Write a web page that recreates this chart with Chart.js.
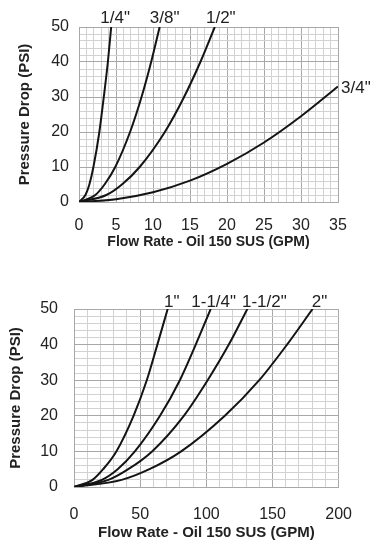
<!DOCTYPE html>
<html>
<head>
<meta charset="utf-8">
<script src="https://cdn.jsdelivr.net/npm/chart.js@4.4.1/dist/chart.umd.min.js"></script>
<style>
html,body{margin:0;padding:0;background:#fff;}
canvas{position:absolute;left:0;}
#c1{top:0;}
#c2{top:270px;}
</style>
</head>
<body>
<canvas id="c1" width="370" height="270"></canvas>
<canvas id="c2" width="370" height="272"></canvas>
<script>
// ---------- Top chart data (flow in GPM read at each pressure level, PSI) ----------
const topPressure = [0, 2, 5, 10, 20, 30, 40, 50];
const flow_1_4 = [0, 0.87, 1.4, 1.95, 2.75, 3.35, 3.9, 4.35];
const flow_3_8 = [0, 2.2, 3.45, 4.9, 6.9, 8.45, 9.75, 10.9];
const flow_1_2 = [0, 3.7, 5.8, 8.2, 11.6, 14.2, 16.4, 18.35];
// 3/4" read at flow levels
const flow_3_4 = [0, 5, 10, 15, 20, 25, 30, 35];
const pressure_3_4 = [0, 0.8, 2.8, 6.1, 10.9, 17.0, 24.5, 33.0];
const topSeriesNames = ['1/4"', '3/8"', '1/2"', '3/4"'];
const topXTickLabels = [0, 5, 10, 15, 20, 25, 30, 35];
const topYTickLabels = [0, 10, 20, 30, 40, 50];

// ---------- Bottom chart data ----------
const bottomPressure = [0, 2, 5, 10, 20, 30, 40, 50];
const flow_1 = [0, 14, 22, 32, 45, 55, 63, 70.8];
const flow_1_1_4 = [0, 21, 33, 46, 65, 80, 92, 103.3];
const flow_1_1_2 = [0, 26, 41, 59, 83, 101, 117, 131];
const flow_2 = [0, 36, 57, 81, 114, 140, 161, 180.3];
const bottomSeriesNames = ['1"', '1-1/4"', '1-1/2"', '2"'];
const bottomXTickLabels = [0, 50, 100, 150, 200];
const bottomYTickLabels = [0, 10, 20, 30, 40, 50];

const xTitle = 'Flow Rate - Oil 150 SUS (GPM)';
const yTitle = 'Pressure Drop (PSI)';

function pts(xs, ys) { return xs.map((x, i) => ({x: x, y: ys[i]})); }

const FONT = "'Liberation Sans', Arial, Helvetica, sans-serif";
const MINOR = '#d2d2d2';
const MAJOR = '#a8a8a8';
const TEXT = '#222';

const curveLabelPlugin = {
  id: 'curveLabels',
  afterDatasetsDraw(chart, args, opts) {
    const ctx = chart.ctx;
    ctx.save();
    ctx.font = opts.font;
    ctx.fillStyle = TEXT;
    chart.data.datasets.forEach((ds, i) => {
      const pl = opts.place[i];
      const meta = chart.getDatasetMeta(i);
      const last = meta.data[meta.data.length - 1];
      const x = last.x + pl.dx;
      let y;
      if (pl.top) {
        ctx.textBaseline = 'alphabetic';
        y = chart.chartArea.top + pl.dy;
      } else {
        ctx.textBaseline = 'middle';
        y = last.y + pl.dy;
      }
      ctx.textAlign = pl.align;
      ctx.fillText(ds.label, x, y);
    });
    ctx.restore();
  }
};

function makeChart(id, datasets, c) {
  new Chart(document.getElementById(id), {
    type: 'scatter',
    data: { datasets: datasets.map(d => ({
      label: d.label, data: d.data, showLine: true, pointRadius: 0,
      borderColor: '#141414', borderWidth: 2, cubicInterpolationMode: 'monotone', fill: false
    })) },
    plugins: [curveLabelPlugin],
    options: {
      responsive: false, animation: false, devicePixelRatio: 1,
      layout: { padding: { left: 0, right: c.padRight, top: c.padTop, bottom: 0 } },
      plugins: { legend: { display: false }, tooltip: { enabled: false },
        curveLabels: { font: c.labelFont, place: c.place } },
      scales: {
        x: {
          type: 'linear', min: 0, max: c.xMax,
          afterFit: s => { s.height = c.xHeight; },
          grid: { color: t => c.xTicks.includes(t.tick.value) ? MAJOR : MINOR, lineWidth: 1, tickLength: 0 },
          border: { display: true, color: MAJOR },
          ticks: { stepSize: c.xStep, autoSkip: false, maxRotation: 0, minRotation: 0,
            padding: c.xTickPad, color: TEXT, font: { family: FONT, size: c.tickSize },
            callback: v => c.xTicks.includes(v) ? String(v) : '' },
          title: { display: true, text: xTitle, color: TEXT,
            font: { family: FONT, size: c.xTitleSize, weight: 'bold' },
            padding: { top: 0, bottom: c.xTitlePad } }
        },
        y: {
          type: 'linear', min: 0, max: 50,
          afterFit: s => { s.width = c.yWidth; },
          grid: { color: t => c.yTicks.includes(t.tick.value) ? MAJOR : MINOR, lineWidth: 1, tickLength: 0 },
          border: { display: true, color: MAJOR },
          ticks: { stepSize: 2, autoSkip: false, padding: c.yTickPad, color: TEXT,
            font: { family: FONT, size: c.tickSize },
            callback: v => c.yTicks.includes(v) ? String(v) : '' },
          title: { display: true, text: yTitle, color: TEXT,
            font: { family: FONT, size: c.yTitleSize, weight: 'bold' },
            padding: { top: c.yTitlePad, bottom: 0 } }
        }
      }
    }
  });
}

makeChart('c1', [
  { label: topSeriesNames[0], data: pts(flow_1_4, topPressure) },
  { label: topSeriesNames[1], data: pts(flow_3_8, topPressure) },
  { label: topSeriesNames[2], data: pts(flow_1_2, topPressure) },
  { label: topSeriesNames[3], data: pts(flow_3_4, pressure_3_4) }
], {
  xMax: 35, xStep: 1, xTicks: topXTickLabels, yTicks: topYTickLabels,
  padRight: 32, padTop: 27, xHeight: 68, yWidth: 79,
  tickSize: 16, xTickPad: 14, yTickPad: 10,
  xTitleSize: 14, xTitlePad: 19, yTitleSize: 15, yTitlePad: 16,
  labelFont: "17px " + FONT,
  place: [
    { dx: 4, dy: -4, align: 'center', top: true },
    { dx: 5, dy: -4, align: 'center', top: true },
    { dx: 6, dy: -4, align: 'center', top: true },
    { dx: 3, dy: 2, align: 'left', top: false }
  ]
});

makeChart('c2', [
  { label: bottomSeriesNames[0], data: pts(flow_1, bottomPressure) },
  { label: bottomSeriesNames[1], data: pts(flow_1_1_4, bottomPressure) },
  { label: bottomSeriesNames[2], data: pts(flow_1_1_2, bottomPressure) },
  { label: bottomSeriesNames[3], data: pts(flow_2, bottomPressure) }
], {
  xMax: 200, xStep: 10, xTicks: bottomXTickLabels, yTicks: bottomYTickLabels,
  padRight: 25, padTop: 39, xHeight: 55, yWidth: 74,
  tickSize: 16, xTickPad: 18, yTickPad: 16,
  xTitleSize: 15, xTitlePad: 0, yTitleSize: 15, yTitlePad: 7,
  labelFont: "17px " + FONT,
  place: [
    { dx: 4, dy: -2, align: 'center', top: true },
    { dx: 3, dy: -2, align: 'center', top: true },
    { dx: 17, dy: -2, align: 'center', top: true },
    { dx: 7, dy: -2, align: 'center', top: true }
  ]
});
</script>
</body>
</html>
